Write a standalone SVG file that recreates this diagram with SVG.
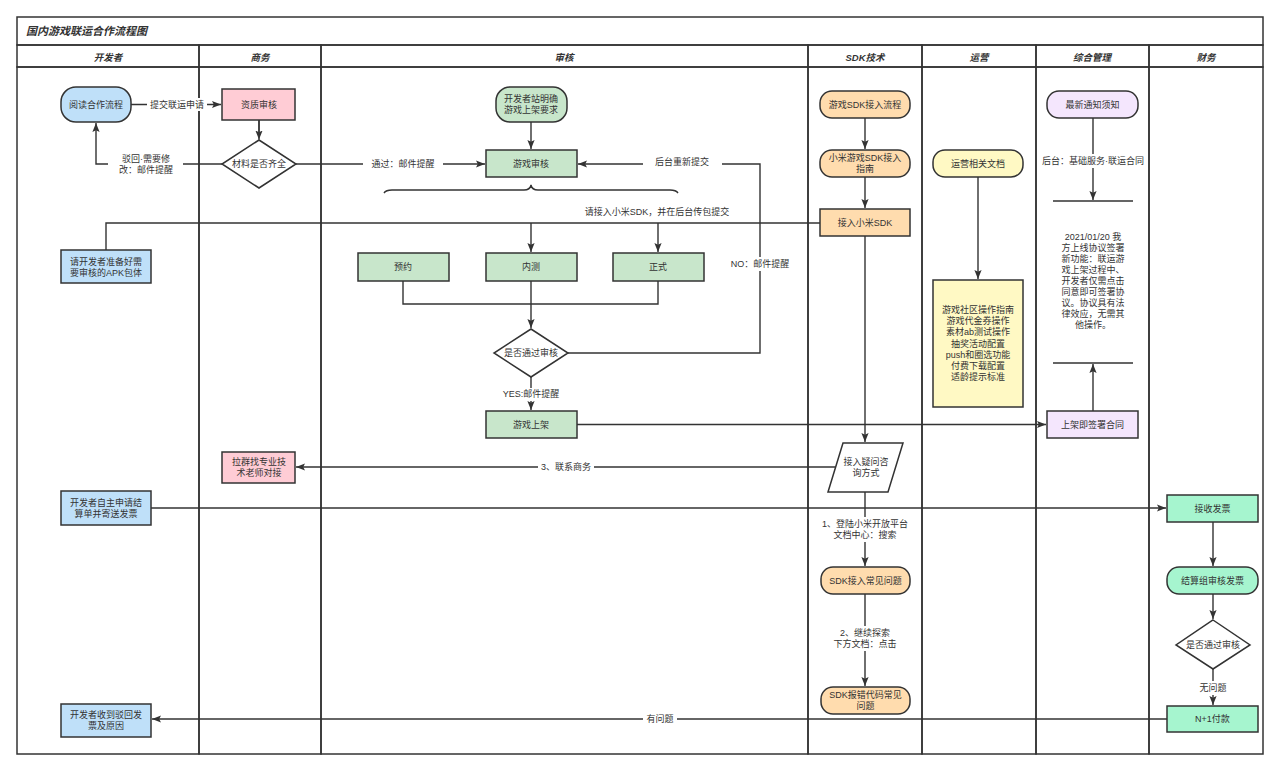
<svg xmlns="http://www.w3.org/2000/svg" width="1280" height="772" viewBox="0 0 1280 772">
<style>
text{font-family:"Liberation Sans","Noto Sans CJK SC",sans-serif;font-size:9px;fill:#333;text-anchor:middle;dominant-baseline:central}
.hd{font-size:9.5px;font-weight:bold;font-style:italic}
.ttl{font-size:11px;font-weight:bold;font-style:italic;text-anchor:start}
.nd{stroke:#333;stroke-width:1.5}
.ln{fill:none;stroke:#333;stroke-width:1.4}
.ar{fill:none;stroke:#333;stroke-width:1.4;marker-end:url(#arr)}
.lane{fill:none;stroke:#333;stroke-width:1.5}
.bg{fill:#fff}
.blue{fill:#bfe0f9}.pink{fill:#ffccd5}.green{fill:#c8e6cb}.orange{fill:#ffdcae}.yellow{fill:#fff9c4}.purple{fill:#f4e6fd}.mint{fill:#a6f5cf}.white{fill:#fff}
</style>
<defs>
<marker id="arr" viewBox="0 0 10 10" refX="10" refY="5" markerWidth="9" markerHeight="9" markerUnits="userSpaceOnUse" orient="auto"><path d="M0,1 L10,5 L0,9 L2,5 z" fill="#333"/></marker>
</defs>
<rect width="1280" height="772" fill="#fff"/>
<g id="pool">
<rect x="17" y="17" width="1246" height="28" fill="#e5ccff" class="lane"/>
<text x="26" y="31" class="ttl">国内游戏联运合作流程图</text>
<rect x="17" y="45" width="182" height="22" fill="#bfe0f9" class="lane"/>
<rect x="199" y="45" width="122" height="22" fill="#ffccd5" class="lane"/>
<rect x="321" y="45" width="487" height="22" fill="#c8e6cb" class="lane"/>
<rect x="808" y="45" width="114" height="22" fill="#ffdcae" class="lane"/>
<rect x="922" y="45" width="114" height="22" fill="#fff9c4" class="lane"/>
<rect x="1036" y="45" width="113" height="22" fill="#f4e6fd" class="lane"/>
<rect x="1149" y="45" width="114" height="22" fill="#a6f5cf" class="lane"/>
<text x="108" y="57" class="hd">开发者</text>
<text x="260" y="57" class="hd">商务</text>
<text x="564" y="57" class="hd">审核</text>
<text x="865" y="57" class="hd">SDK技术</text>
<text x="979" y="57" class="hd">运营</text>
<text x="1092" y="57" class="hd">综合管理</text>
<text x="1206" y="57" class="hd">财务</text>
<rect x="17" y="67" width="182" height="687" class="lane"/>
<rect x="199" y="67" width="122" height="687" class="lane"/>
<rect x="321" y="67" width="487" height="687" class="lane"/>
<rect x="808" y="67" width="114" height="687" class="lane"/>
<rect x="922" y="67" width="114" height="687" class="lane"/>
<rect x="1036" y="67" width="113" height="687" class="lane"/>
<rect x="1149" y="67" width="114" height="687" class="lane"/>
</g>
<g id="connectors">
<path class="ar" d="M131,104.5 H221"/>
<path class="ln" d="M259,120 V132"/><path class="ar" d="M259,120 V139.5"/>
<path class="ar" d="M222,164 H96 V123"/>
<path class="ar" d="M296,164 H485"/>
<path class="ar" d="M531,122 V149"/>
<path class="ln" d="M384,193 Q386,190 392,190 H524 Q530,190 531,185 Q532,190 538,190 H670 Q676,190 678,193"/>
<path class="ln" d="M820,223 H106 V250"/>
<path class="ar" d="M531,223 V252"/>
<path class="ar" d="M658,223 V252"/>
<path class="ln" d="M403,281 V304 H658 V281"/>
<path class="ar" d="M531,281 V328"/>
<path class="ar" d="M568,353 H760 V164 H578"/>
<path class="ar" d="M531,377 V410"/>
<path class="ar" d="M577,424.5 H1046"/>
<path class="ar" d="M865,118 V149"/>
<path class="ar" d="M865,177 V208"/>
<path class="ar" d="M865,236 V442"/>
<path class="ar" d="M835,467 H296"/>
<path class="ar" d="M865,492 V566"/>
<path class="ar" d="M865,594 V686"/>
<path class="ar" d="M978,177 V279"/>
<path class="ar" d="M1093,118 V200"/>
<path class="ar" d="M1093,411 V364"/>
<path class="ar" d="M151,508 H1166"/>
<path class="ar" d="M1213,522 V566"/>
<path class="ar" d="M1213,594 V619"/>
<path class="ar" d="M1213,669 V705"/>
<path class="ar" d="M1167,719 H152"/>
<g id="edge-labels">
<rect x="147" y="98" width="60" height="13" class="bg"/><text x="177" y="104.5">提交联运申请</text>
<rect x="108" y="152" width="75" height="25" class="bg"/><text x="146" y="159">驳回·需要修</text><text x="146" y="170">改：邮件提醒</text>
<rect x="363" y="157" width="80" height="14" class="bg"/><text x="403" y="164">通过：邮件提醒</text>
<rect x="643" y="155" width="79" height="14" class="bg"/><text x="682" y="162">后台重新提交</text>
<text x="657" y="212">请接入小米SDK，并在后台传包提交</text>
<rect x="730" y="257" width="61" height="14" class="bg"/><text x="760" y="264">NO：邮件提醒</text>
<rect x="500" y="388" width="62" height="13" class="bg"/><text x="531" y="394">YES:邮件提醒</text>
<rect x="538" y="461" width="56" height="13" class="bg"/><text x="566" y="467">3、联系商务</text>
<rect x="815" y="517" width="100" height="25" class="bg"/><text x="865" y="524">1、登陆小米开放平台</text><text x="865" y="535">文档中心：搜索</text>
<rect x="825" y="626" width="80" height="25" class="bg"/><text x="865" y="633">2、继续探索</text><text x="865" y="644">下方文档：点击</text>
<rect x="1040" y="154" width="106" height="14" class="bg"/><text x="1093" y="161">后台：基础服务·联运合同</text>
<rect x="1196" y="681" width="34" height="14" class="bg"/><text x="1213" y="688">无问题</text>
<rect x="643" y="712" width="34" height="14" class="bg"/><text x="660" y="719">有问题</text>
</g>
</g>
<g id="n-read"><rect x="61" y="87" width="70" height="35" rx="15" class="nd blue"/><text x="96" y="104.5">阅读合作流程</text></g>
<g id="n-prep"><rect x="61" y="250" width="90" height="33" class="nd blue"/><text x="106" y="262">请开发者准备好需</text><text x="106" y="273">要审核的APK包体</text></g>
<g id="n-apply"><rect x="61" y="491" width="90" height="34" class="nd blue"/><text x="106" y="503">开发者自主申请结</text><text x="106" y="514">算单并寄送发票</text></g>
<g id="n-reject"><rect x="61" y="704" width="90" height="33" class="nd blue"/><text x="106" y="715">开发者收到驳回发</text><text x="106" y="726">票及原因</text></g>
<g id="n-qual"><rect x="222" y="89" width="73" height="31" class="nd pink"/><text x="259" y="104.5">资质审核</text></g>
<g id="n-mat"><path d="M259,140 L296,164 L259,188 L222,164 Z" class="nd white"/><text x="259" y="164">材料是否齐全</text></g>
<g id="n-group"><rect x="222" y="452" width="73" height="31" class="nd pink"/><text x="259" y="462">拉群找专业技</text><text x="259" y="473">术老师对接</text></g>
<g id="n-req"><rect x="496" y="87" width="71" height="35" rx="14" class="nd green"/><text x="531" y="99">开发者站明确</text><text x="531" y="110">游戏上架要求</text></g>
<g id="n-review"><rect x="486" y="150" width="91" height="27" class="nd green"/><text x="531" y="164">游戏审核</text></g>
<g id="n-pre"><rect x="358" y="253" width="91" height="28" class="nd green"/><text x="403" y="267">预约</text></g>
<g id="n-beta"><rect x="486" y="253" width="91" height="28" class="nd green"/><text x="531" y="267">内测</text></g>
<g id="n-formal"><rect x="613" y="253" width="91" height="28" class="nd green"/><text x="658" y="267">正式</text></g>
<g id="n-pass"><path d="M531,329 L568,353 L531,377 L494,353 Z" class="nd white"/><text x="531" y="353">是否通过审核</text></g>
<g id="n-online"><rect x="486" y="411" width="91" height="27" class="nd green"/><text x="531" y="424.5">游戏上架</text></g>
<g id="n-sdkflow"><rect x="820" y="91" width="90" height="27" rx="12" class="nd orange"/><text x="865" y="104.5">游戏SDK接入流程</text></g>
<g id="n-guide"><rect x="820" y="150" width="90" height="27" rx="12" class="nd orange"/><text x="865" y="158">小米游戏SDK接入</text><text x="865" y="169">指南</text></g>
<g id="n-integ"><rect x="820" y="209" width="90" height="27" class="nd orange"/><text x="865" y="222.5">接入小米SDK</text></g>
<g id="n-consult"><path d="M843,443 L903,443 L888,492 L828,492 Z" class="nd white"/><text x="866" y="462">接入疑问咨</text><text x="866" y="473">询方式</text></g>
<g id="n-faq"><rect x="821" y="567" width="89" height="27" rx="12" class="nd orange"/><text x="865.5" y="580.5">SDK接入常见问题</text></g>
<g id="n-err"><rect x="821" y="687" width="89" height="27" rx="12" class="nd orange"/><text x="865.5" y="695">SDK报错代码常见</text><text x="865.5" y="706">问题</text></g>
<g id="n-opdoc"><rect x="933" y="150" width="90" height="27" rx="12" class="nd yellow"/><text x="978" y="163.5">运营相关文档</text></g>
<g id="n-oplist"><rect x="933" y="280" width="90" height="127" class="nd yellow"/><text x="978" y="310">游戏社区操作指南</text><text x="978" y="321">游戏代金券操作</text><text x="978" y="332">素材ab测试操作</text><text x="978" y="343.5">抽奖活动配置</text><text x="978" y="355">push和圈选功能</text><text x="978" y="366">付费下载配置</text><text x="978" y="377">适龄提示标准</text></g>
<g id="n-notice"><rect x="1047" y="91" width="91" height="27" rx="12" class="nd purple"/><text x="1092.5" y="104.5">最新通知须知</text></g>
<g id="n-note"><path d="M1053,201 H1133 M1053,363 H1133" class="ln"/>
<text x="1093" y="237">2021/01/20 我</text><text x="1093" y="248">方上线协议签署</text><text x="1093" y="259">新功能：联运游</text><text x="1093" y="270">戏上架过程中、</text><text x="1093" y="281">开发者仅需点击</text><text x="1093" y="292">同意即可签署协</text><text x="1093" y="303">议。协议具有法</text><text x="1093" y="314">律效应，无需其</text><text x="1093" y="325">他操作。</text></g>
<g id="n-sign"><rect x="1047" y="411" width="91" height="27" class="nd purple"/><text x="1092.5" y="424.5">上架即签署合同</text></g>
<g id="n-recv"><rect x="1167" y="495" width="91" height="27" class="nd mint"/><text x="1212.5" y="508.5">接收发票</text></g>
<g id="n-audit"><rect x="1167" y="567" width="91" height="27" rx="12" class="nd mint"/><text x="1212.5" y="580.5">结算组审核发票</text></g>
<g id="n-fpass"><path d="M1213,620 L1250,645 L1213,669 L1176,645 Z" class="nd white"/><text x="1213" y="645">是否通过审核</text></g>
<g id="n-pay"><rect x="1167" y="706" width="91" height="26" class="nd mint"/><text x="1212.5" y="719">N+1付款</text></g>
</svg>
